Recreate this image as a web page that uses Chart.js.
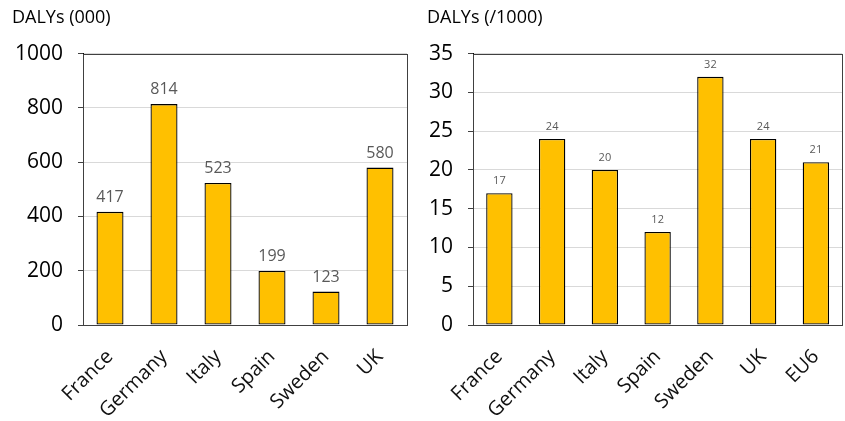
<!DOCTYPE html>
<html>
<head>
<meta charset="utf-8">
<script src="https://cdn.jsdelivr.net/npm/chart.js@4/dist/chart.umd.min.js"></script>
<style>
  html, body { margin: 0; padding: 0; background: #fff; }
  #wrap { position: relative; width: 845px; height: 421px; }
  #left { position: absolute; left: 0; top: 0; }
  #right { position: absolute; left: 420px; top: 0; }
</style>
</head>
<body>
<div id="wrap">
  <canvas id="left" width="420" height="421"></canvas>
  <canvas id="right" width="425" height="421"></canvas>
</div>
<script>
// data
const countries = ["France", "Germany", "Italy", "Spain", "Sweden", "UK"];
const dalysTotal = [417, 814, 523, 199, 123, 580];
const countriesEu = ["France", "Germany", "Italy", "Spain", "Sweden", "UK", "EU6"];
const dalysRate = [17, 24, 20, 12, 32, 24, 21];

const barFill = "#FFC000";
const fontFamily = "'Open Sans', 'DejaVu Sans', sans-serif";

// numbers above bars + box around plot area
const barLabels = {
    id: "barLabels",
    afterDatasetsDraw(chart, args, opts) {
        const ctx = chart.ctx;
        const meta = chart.getDatasetMeta(0);
        const values = chart.data.datasets[0].data;
        ctx.save();
        ctx.fillStyle = "#595959";
        ctx.font = opts.size + "px " + fontFamily;
        ctx.textAlign = "center";
        ctx.textBaseline = "alphabetic";
        meta.data.forEach((bar, i) => {
            ctx.fillText(values[i], bar.x, bar.y - opts.gap);
        });
        ctx.restore();
    },
    afterDraw(chart) {
        const a = chart.chartArea;
        const ctx = chart.ctx;
        ctx.save();
        ctx.strokeStyle = "#404040";
        ctx.lineWidth = 1;
        ctx.strokeRect(Math.round(a.left) + 0.5, Math.round(a.top) + 0.5,
            Math.round(a.right - a.left), Math.round(a.bottom - a.top));
        ctx.restore();
    }
};

function makeChart(el, labels, values, title, yMax, yStep, leftPad, yWidth, rightPad, labelSize, labelGap) {
    return new Chart(el, {
        type: "bar",
        plugins: [barLabels],
        data: {
            labels: labels,
            datasets: [{
                data: values,
                backgroundColor: barFill,
                borderColor: "#000000",
                borderWidth: 1.3,
                borderSkipped: false,
                barPercentage: 0.5,
                categoryPercentage: 1.0
            }]
        },
        options: {
            responsive: false,
            animation: false,
            devicePixelRatio: 1,
            layout: { padding: { left: leftPad, right: rightPad, top: 0, bottom: 0 } },
            plugins: {
                legend: { display: false },
                tooltip: { enabled: false },
                title: {
                    display: true,
                    text: title,
                    align: "start",
                    color: "#000",
                    font: { family: fontFamily, size: 18, weight: "normal" },
                    padding: { top: 7, bottom: 25 }
                },
                barLabels: { size: labelSize, gap: labelGap }
            },
            scales: {
                x: {
                    grid: { display: false },
                    border: { color: "#000", width: 1 },
                    ticks: {
                        color: "#111",
                        font: { family: fontFamily, size: 20 },
                        minRotation: 45,
                        maxRotation: 45,
                        padding: 12
                    },
                    afterFit: (scale) => { scale.height = 96; }
                },
                y: {
                    min: 0,
                    max: yMax,
                    grid: { color: "#d9d9d9", tickColor: "#404040", tickLength: 5 },
                    border: { color: "#000", width: 1 },
                    ticks: {
                        stepSize: yStep,
                        color: "#000",
                        font: { family: fontFamily, size: 21 },
                        padding: 15,
                        callback: (v) => String(v)
                    },
                    afterFit: (scale) => { scale.width = yWidth; }
                }
            }
        }
    });
}

makeChart(document.getElementById("left"), countries, dalysTotal, "DALYs (000)",
    1000, 200, 12, 71, 13, 16, 10);
makeChart(document.getElementById("right"), countriesEu, dalysRate, "DALYs (/1000)",
    35, 5, 7, 46, 2, 11, 9);
</script>
</body>
</html>
